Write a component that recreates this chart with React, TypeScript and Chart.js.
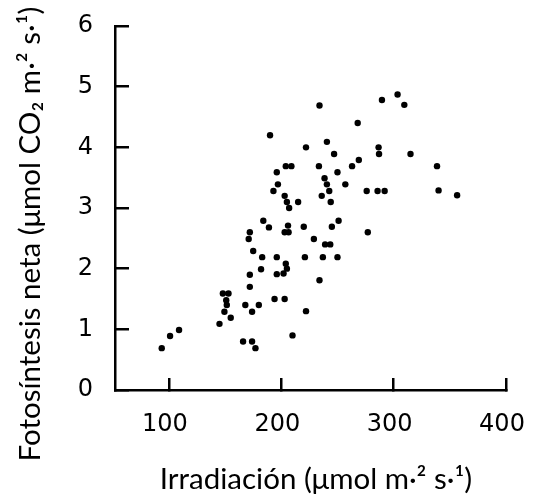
import React, { useEffect, useRef } from "react";
import { Chart, registerables } from "chart.js";

Chart.register(...registerables);

// Irradiation (µmol m-2 s-1)
const irradiance: number[] = [
  93.6, 101, 109, 145, 155, 148, 153, 151, 151.5, 149.4,
  168, 174, 180, 166, 174, 177, 172, 172, 175, 183,
  182, 172, 171, 184, 189, 190, 196, 197, 193, 204,
  209, 203, 205, 207, 215, 206, 203, 206.5, 220, 229,
  239, 243.6, 222, 234, 240.6, 247, 233.5, 250, 238.5, 240.6,
  242.7, 236, 244, 257, 263, 269, 268, 276, 285.7, 292,
  286.6, 287, 315, 338.6, 340, 356.5, 289.6, 303.5, 309.5, 251,
  245, 277, 196, 221, 237, 250, 196, 202, 204, 205,
  234, 194, 203, 222, 210,
];
// Net photosynthesis (µmol CO2 m-2 s-1)
const photosynthesis: number[] = [
  0.69, 0.89, 0.99, 1.09, 1.19, 1.59, 1.59, 1.48, 1.4, 1.29,
  1.4, 1.29, 1.4, 0.8, 0.8, 0.69, 1.7, 1.9, 2.29, 2.19,
  1.99, 2.6, 2.49, 2.79, 2.68, 4.2, 3.59, 3.39, 3.28, 3.69,
  3.69, 3.2, 3.1, 3.0, 3.1, 2.71, 2.6, 2.6, 2.69, 2.49,
  2.4, 2.4, 4.0, 4.69, 4.09, 3.89, 3.69, 3.59, 3.49, 3.39,
  3.28, 3.2, 3.1, 3.39, 3.69, 3.79, 4.4, 3.28, 3.28, 3.28,
  4.0, 3.89, 3.89, 3.69, 3.29, 3.21, 4.78, 4.87, 4.7, 2.79,
  2.69, 2.6, 2.19, 2.19, 2.19, 2.19, 1.91, 1.92, 2.08, 2.0,
  1.81, 1.5, 1.5, 1.3, 0.9,
];
const xTicks: number[] = [100, 200, 300, 400];
const yTicks: number[] = [0, 1, 2, 3, 4, 5, 6];
const xTitle = "Irradiación (\u03BCmol m\u00B7\u00B2 s\u00B7\u00B9)";
const yTitle = "Fotosíntesis neta (\u03BCmol CO\u2082 m\u00B7\u00B2 s\u00B7\u00B9)";

const W = 545;
const H = 498;

const titlesPlugin = {
  id: "axisTitles",
  afterDraw(chart: any) {
    const ctx = chart.ctx;
    ctx.save();
    ctx.fillStyle = "#000";
    ctx.font = "29.5px Lato";
    ctx.textAlign = "center";
    ctx.textBaseline = "middle";
    ctx.fillText(xTitle, 316, 479);
    ctx.translate(30, 234);
    ctx.rotate(-Math.PI / 2);
    ctx.fillText(yTitle, 0, 0);
    ctx.restore();
  },
};

export default function App() {
  const ref = useRef<HTMLCanvasElement | null>(null);
  useEffect(() => {
    if (!ref.current) return;
    const data = irradiance.map((x, i) => ({ x, y: photosynthesis[i] }));
    const chart = new Chart(ref.current, {
      type: "scatter",
      data: {
        datasets: [
          {
            data,
            backgroundColor: "#000",
            borderColor: "#000",
            pointRadius: 3.2,
            pointBorderWidth: 0,
          },
        ],
      },
      options: {
        animation: false,
        responsive: false,
        devicePixelRatio: 1,
        layout: { padding: { top: 26, right: 39, left: 0, bottom: 0 } },
        plugins: { legend: { display: false }, tooltip: { enabled: false } },
        scales: {
          x: {
            type: "linear",
            min: 52,
            max: 400,
            afterBuildTicks: (s: any) => {
              s.ticks = xTicks.map((v) => ({ value: v }));
            },
            afterFit: (s: any) => {
              s.height = H - 390;
              s.paddingLeft = 0;
              s.paddingRight = 0;
            },
            border: { display: true, color: "#000", width: 2.5 },
            grid: {
              display: true,
              drawOnChartArea: false,
              drawTicks: true,
              tickLength: -12,
              color: "#000",
              lineWidth: 2.5,
            },
            ticks: {
              color: "#000",
              font: { family: "DejaVu Sans", size: 24 },
              padding: 32,
              labelOffset: -4,
            },
          },
          y: {
            type: "linear",
            min: 0,
            max: 6,
            afterBuildTicks: (s: any) => {
              s.ticks = yTicks.map((v) => ({ value: v }));
            },
            afterFit: (s: any) => {
              s.width = 115;
              s.paddingTop = 0;
              s.paddingBottom = 0;
            },
            border: { display: true, color: "#000", width: 2.5 },
            grid: {
              display: true,
              drawOnChartArea: false,
              drawTicks: true,
              tickLength: -14,
              color: "#000",
              lineWidth: 2.5,
            },
            ticks: {
              color: "#000",
              font: { family: "DejaVu Sans", size: 24 },
              padding: 36,
            },
          },
        },
      },
      plugins: [titlesPlugin],
    });
    return () => chart.destroy();
  }, []);
  return (
    <div style={{ position: "fixed", left: 0, top: 0, width: W, height: H, background: "#fff" }}>
      <canvas ref={ref} width={W} height={H} style={{ width: W, height: H }} />
    </div>
  );
}
